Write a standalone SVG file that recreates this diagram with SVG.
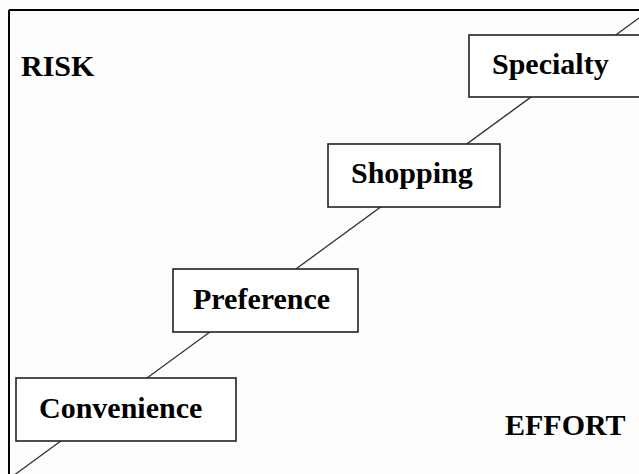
<svg xmlns="http://www.w3.org/2000/svg" width="639" height="474" viewBox="0 0 639 474">
  <style>
    .frame { stroke: #000; stroke-width: 2; fill: none; }
    .link { stroke: #333; stroke-width: 1.3; fill: none; }
    .box { fill: #fff; stroke: #222; stroke-width: 1.6; }
    .lbl { font-family: "Liberation Serif", "Times New Roman", serif; font-weight: bold; font-size: 30px; fill: #000; }
  </style>
  <rect width="639" height="474" fill="#fdfdfd"/>
  <!-- axis frame: top and left edges -->
  <g id="frame">
    <line class="frame" x1="9" y1="10" x2="639" y2="10"/>
    <line class="frame" x1="9" y1="10" x2="9" y2="474"/>
  </g>
  <text class="lbl" x="21" y="76">RISK</text>
  <text class="lbl" x="505" y="435">EFFORT</text>
  <!-- diagonal running through all categories -->
  <g id="connectors">
    <line class="link" x1="15" y1="474.5" x2="639" y2="18"/>
  </g>
  <g id="convenience">
    <rect class="box" x="16" y="378" width="220" height="63"/>
    <text class="lbl" x="39" y="418">Convenience</text>
  </g>
  <g id="preference">
    <rect class="box" x="173" y="269" width="185" height="63"/>
    <text class="lbl" x="193" y="309">Preference</text>
  </g>
  <g id="shopping">
    <rect class="box" x="328" y="144" width="172" height="63"/>
    <text class="lbl" x="351" y="183">Shopping</text>
  </g>
  <g id="specialty">
    <rect class="box" x="469" y="35" width="175" height="62"/>
    <text class="lbl" x="492" y="74">Specialty</text>
  </g>
</svg>
